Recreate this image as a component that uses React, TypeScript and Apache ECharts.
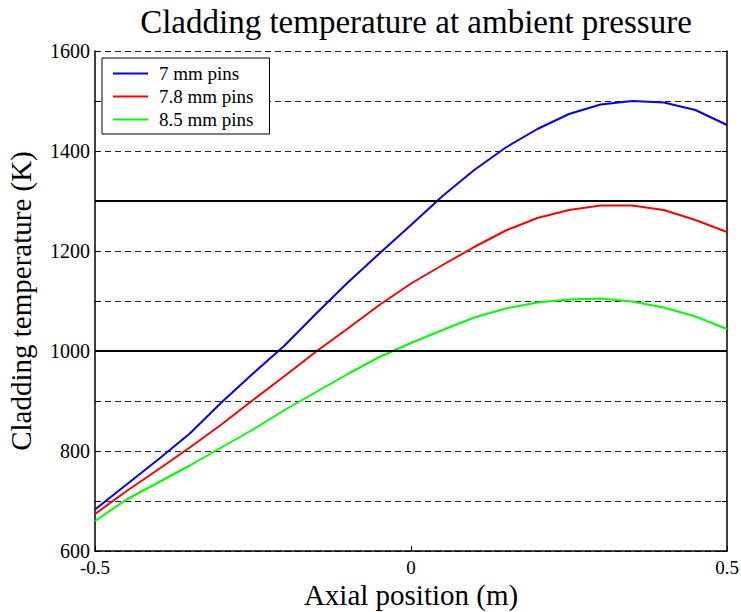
import React, { useEffect, useRef } from "react";
import * as echarts from "echarts";

const positions = [-0.5, -0.45, -0.4, -0.35, -0.3, -0.25, -0.2, -0.15, -0.1, -0.05, 0, 0.05, 0.1, 0.15, 0.2, 0.25, 0.3, 0.35, 0.4, 0.45, 0.5];
const pins7 = [683, 733, 783, 835, 897, 955, 1011, 1075, 1137, 1195, 1252, 1310, 1362, 1407, 1444, 1474, 1493, 1500, 1497, 1482, 1452];
const pins78 = [674, 720, 763, 807, 853, 902, 950, 999, 1045, 1092, 1135, 1172, 1208, 1241, 1266, 1282, 1291, 1291, 1282, 1262, 1238];
const pins85 = [660, 703, 737, 771, 807, 843, 882, 918, 954, 988, 1016, 1042, 1067, 1085, 1097, 1103, 1105, 1099, 1087, 1069, 1044];
const seriesNames = ["7 mm pins", "7.8 mm pins", "8.5 mm pins"];
const limitLines = [1000, 1300];
const yLabels = [600, 800, 1000, 1200, 1400, 1600];

const FONT = "'Liberation Serif', 'Times New Roman', serif";

export default function App() {
  const ref = useRef<HTMLDivElement>(null);
  useEffect(() => {
    if (!ref.current) return;
    const chart = echarts.init(ref.current, null, { renderer: "svg" });
    const mk = (vals: number[]) => positions.map((x, i) => [x, vals[i]]);
    const colors = ["#0000ff", "#ff0000", "#00ff00"];
    const all = [pins7, pins78, pins85];
    chart.setOption({
      animation: false,
      backgroundColor: "#ffffff",
      textStyle: { fontFamily: FONT },
      title: {
        text: "Cladding temperature at ambient pressure",
        left: 411,
        top: 0,
        textAlign: "center",
        textStyle: { fontFamily: FONT, fontSize: 33, fontWeight: "normal", color: "#000" },
      },
      grid: { left: 95, top: 51, right: 14, bottom: 61, containLabel: false, outerBoundsMode: "none" },
      legend: {
        left: 102,
        top: 58,
        orient: "vertical",
        itemWidth: 35,
        itemHeight: 2,
        itemGap: 4,
        icon: "rect",
        padding: [6, 16, 5, 11],
        borderColor: "#000",
        borderWidth: 1,
        backgroundColor: "#fff",
        textStyle: { fontFamily: FONT, fontSize: 19, color: "#000", padding: [0, 0, 0, 6] },
        data: seriesNames,
      },
      xAxis: {
        type: "value",
        min: -0.5,
        max: 0.5,
        interval: 0.5,
        name: "Axial position (m)",
        nameLocation: "middle",
        nameGap: 29,
        nameMoveOverlap: false,
        nameTextStyle: { fontFamily: FONT, fontSize: 29, color: "#000" },
        axisLine: { show: true, onZero: false, lineStyle: { color: "#000", width: 1.5 } },
        axisTick: { show: true, inside: true, length: 5, lineStyle: { color: "#000" } },
        splitLine: { show: false },
        axisLabel: {
          fontFamily: FONT,
          fontSize: 19,
          color: "#000",
          margin: 7,
        },
      },
      yAxis: [
        {
          type: "value",
          min: 600,
          max: 1600,
          interval: 100,
          name: "Cladding temperature (K)",
          nameLocation: "middle",
          nameGap: 60,
          nameMoveOverlap: false,
          nameTextStyle: { fontFamily: FONT, fontSize: 29, color: "#000" },
          axisLine: { show: true, onZero: false, lineStyle: { color: "#000", width: 1.5 } },
          axisTick: { show: true, inside: true, length: 5, lineStyle: { color: "#000" } },
          splitLine: { show: true, lineStyle: { color: "#222", type: [6, 4], width: 1 } },
          axisLabel: {
            fontFamily: FONT,
            fontSize: 20,
            color: "#000",
            margin: 5,
            formatter: (v: number) => (yLabels.includes(v) ? String(v) : ""),
          },
        },
        {
          type: "value",
          min: 600,
          max: 1600,
          interval: 100,
          position: "right",
          axisLine: { show: true, onZero: false, lineStyle: { color: "#000", width: 1.5 } },
          axisTick: { show: true, inside: true, length: 5, lineStyle: { color: "#000" } },
          splitLine: { show: false },
          axisLabel: { show: false },
        },
      ],
      series: all.map((vals, i) => ({
        name: seriesNames[i],
        type: "line",
        data: mk(vals),
        showSymbol: false,
        symbol: "none",
        lineStyle: { color: colors[i], width: 2 },
        itemStyle: { color: colors[i] },
        markLine:
          i === 0
            ? {
                silent: true,
                symbol: "none",
                label: { show: false },
                lineStyle: { color: "#000", type: "solid", width: 2 },
                data: limitLines.map((y) => ({ yAxis: y })),
              }
            : undefined,
      })),
    });
    return () => chart.dispose();
  }, []);
  return (
    <>
      <style>{"svg text { font-family: 'Liberation Serif', 'Times New Roman', serif !important; }"}</style>
      <div ref={ref} style={{ width: 741, height: 612, position: "absolute", left: 0, top: 0 }} />
    </>
  );
}
